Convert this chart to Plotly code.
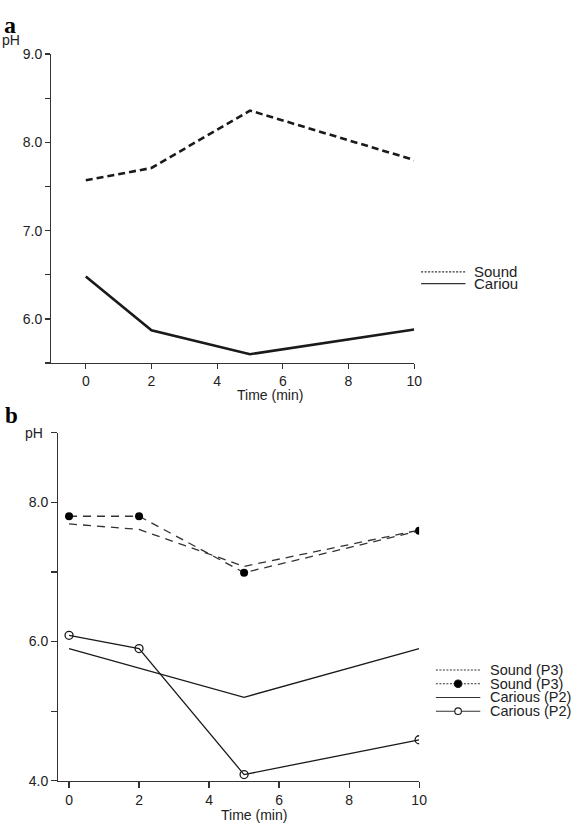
import plotly.graph_objects as go

W, H = 579, 832

# ---------------- data ----------------
time_a = [0, 2, 5, 10]
sound_a = [7.57, 7.71, 8.36, 7.80]
carious_a = [6.48, 5.87, 5.60, 5.88]

time_b = [0, 2, 5, 10]
sound_p3_line = [7.69, 7.61, 7.08, 7.60]
sound_p3_dots = [7.80, 7.80, 6.99, 7.59]
carious_p2_line = [5.90, 5.62, 5.20, 5.90]
carious_p2_circ = [6.09, 5.90, 4.09, 4.59]

x_ticks = [0, 2, 4, 6, 8, 10]
ya_ticks = [5.5, 6.0, 6.5, 7.0, 7.5, 8.0, 8.5, 9.0]
ya_labels = ["", "6.0", "", "7.0", "", "8.0", "", "9.0"]
yb_ticks = [4, 5, 6, 7, 8, 9]
yb_labels = ["4.0", "", "6.0", "", "8.0", ""]

legend_a_labels = ["Sound", "Cariou"]
legend_b_labels = ["Sound (P3)", "Sound (P3)", "Carious (P2)", "Carious (P2)"]

FONT = "Liberation Sans"
INK = "#1a1a1a"
AX = "#333333"


def px(x):
    return x / W


def py(y):
    return 1 - y / H


fig = go.Figure()

# ---------------- panel a ----------------
fig.add_trace(go.Scatter(x=time_a, y=sound_a, mode="lines", xaxis="x", yaxis="y",
                         line=dict(color=INK, width=2.6, dash="7px,4px"), showlegend=False))
fig.add_trace(go.Scatter(x=time_a, y=carious_a, mode="lines", xaxis="x", yaxis="y",
                         line=dict(color=INK, width=2.6), showlegend=False))

# ---------------- panel b ----------------
fig.add_trace(go.Scatter(x=time_b, y=sound_p3_line, mode="lines", xaxis="x2", yaxis="y2",
                         line=dict(color=AX, width=1.3, dash="8px,6px"), showlegend=False))
fig.add_trace(go.Scatter(x=time_b, y=sound_p3_dots, mode="lines+markers", xaxis="x2", yaxis="y2",
                         line=dict(color=AX, width=1.3, dash="8px,6px"),
                         marker=dict(color="black", size=8), showlegend=False))
fig.add_trace(go.Scatter(x=time_b, y=carious_p2_line, mode="lines", xaxis="x2", yaxis="y2",
                         line=dict(color=INK, width=1.3), showlegend=False))
fig.add_trace(go.Scatter(x=time_b, y=carious_p2_circ, mode="lines+markers", xaxis="x2", yaxis="y2",
                         line=dict(color=INK, width=1.3),
                         marker=dict(symbol="circle-open", color=INK, size=8,
                                     line=dict(width=1.3)), showlegend=False))

tickfont = dict(family=FONT, size=14, color="#222")
axis_common = dict(showline=True, linecolor=AX, linewidth=1.2, ticks="outside",
                   tickcolor=AX, tickwidth=1.2, showgrid=False, zeroline=False,
                   tickfont=tickfont, fixedrange=True)

fig.update_layout(
    width=W, height=H,
    margin=dict(l=0, r=0, t=0, b=0),
    paper_bgcolor="white", plot_bgcolor="white",
    showlegend=False,
    hovermode=False,
    xaxis=dict(domain=[px(52), px(420)], range=[-1.05, 10], anchor="y",
               tickvals=x_ticks, ticklen=5, **axis_common),
    yaxis=dict(domain=[py(362), py(47)], range=[5.5, 9.0], anchor="x",
               tickvals=ya_ticks, ticktext=ya_labels, ticklen=5, **axis_common),
    xaxis2=dict(domain=[px(59), px(425)], range=[-0.31, 10], anchor="y2",
                tickvals=x_ticks, ticklen=6, **axis_common),
    yaxis2=dict(domain=[py(788), py(433)], range=[4.0, 9.0], anchor="x2",
                tickvals=yb_ticks, ticktext=yb_labels, ticklen=6, **axis_common),
)

annotations = []
shapes = []
txt = dict(family=FONT, size=14, color="#222")

# panel letters
annotations.append(dict(text="<b>a</b>", x=px(2), y=py(17), xref="paper", yref="paper",
                        xanchor="left", yanchor="middle", showarrow=False,
                        font=dict(family="Liberation Serif", size=24, color="black")))
annotations.append(dict(text="<b>b</b>", x=px(3), y=py(415), xref="paper", yref="paper",
                        xanchor="left", yanchor="middle", showarrow=False,
                        font=dict(family="Liberation Serif", size=23, color="black")))
# pH labels
annotations.append(dict(text="pH", x=px(0), y=py(33), xref="paper", yref="paper",
                        xanchor="left", yanchor="middle", showarrow=False, font=txt))
annotations.append(dict(text="pH", x=px(46), y=py(433), xref="paper", yref="paper",
                        xanchor="right", yanchor="middle", showarrow=False, font=txt))
# axis titles
annotations.append(dict(text="Time (min)", x=px(274), y=py(395), xref="paper", yref="paper",
                        xanchor="center", yanchor="middle", showarrow=False, font=txt))
annotations.append(dict(text="Time (min)", x=px(258), y=py(823), xref="paper", yref="paper",
                        xanchor="center", yanchor="middle", showarrow=False, font=txt))

# legend a
legend_a_dash = ["2px,1.5px", "solid"]
for i, lab in enumerate(legend_a_labels):
    yy = 269 + 12 * i
    shapes.append(dict(type="line", xref="paper", yref="paper", x0=px(427), x1=px(472),
                       y0=py(yy), y1=py(yy), line=dict(color=AX, width=1.1, dash=legend_a_dash[i])))
    annotations.append(dict(text=lab, x=px(479), y=py(yy), xref="paper", yref="paper",
                            xanchor="left", yanchor="middle", showarrow=False,
                            font=dict(family=FONT, size=15, color="#222")))

# legend b
legend_b_dash = ["2px,1.5px", "2px,1.5px", "solid", "solid"]
legend_b_mark = [None, "filled", None, "open"]
for i, lab in enumerate(legend_b_labels):
    yy = 675 + 14 * i
    shapes.append(dict(type="line", xref="paper", yref="paper", x0=px(442), x1=px(487),
                       y0=py(yy), y1=py(yy), line=dict(color=AX, width=1.1, dash=legend_b_dash[i])))
    if legend_b_mark[i] is not None:
        filled = legend_b_mark[i] == "filled"
        r = 3.8 if filled else 3.3
        shapes.append(dict(type="circle", xref="paper", yref="paper",
                           xsizemode="pixel", ysizemode="pixel",
                           xanchor=px(464.5), yanchor=py(yy),
                           x0=-r, x1=r, y0=-r, y1=r,
                           fillcolor="black" if filled else "white",
                           line=dict(color=INK, width=1.1)))
    annotations.append(dict(text=lab, x=px(495), y=py(yy), xref="paper", yref="paper",
                            xanchor="left", yanchor="middle", showarrow=False,
                            font=dict(family=FONT, size=14.5, color="#222")))

fig.update_layout(annotations=annotations, shapes=shapes)

# remove the default page margin so the 579x832 figure fills the window exactly
fig.write_html("out.html",
               config={"displayModeBar": False, "staticPlot": True},
               post_script="document.body.style.margin='0px';document.body.style.overflow='hidden';")
